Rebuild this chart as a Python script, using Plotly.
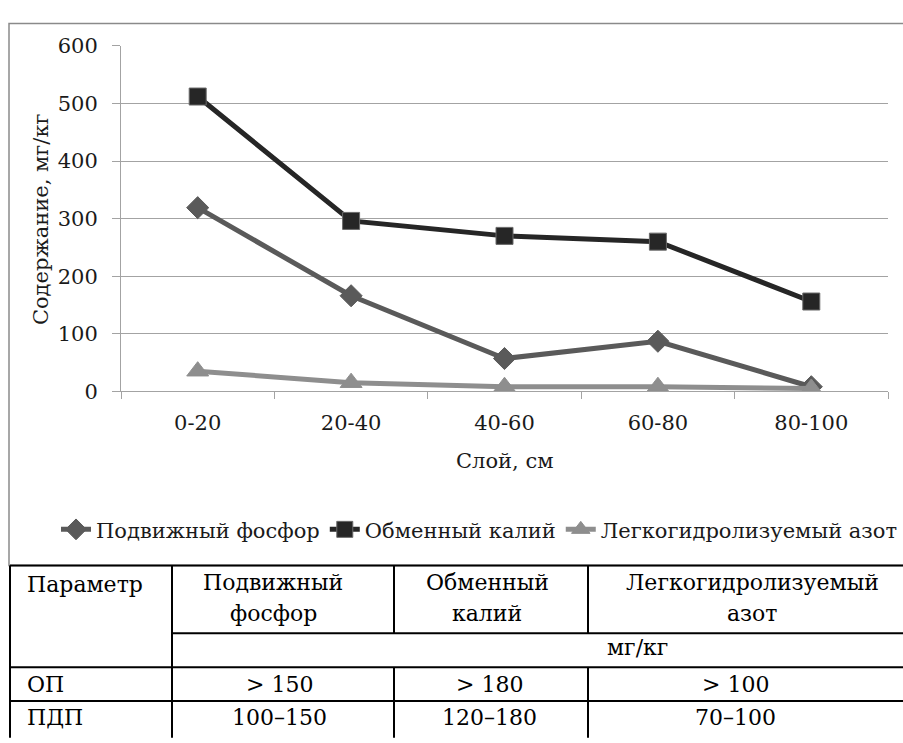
import plotly.graph_objects as go

# Soil layers and nutrient content, mg/kg
layers = ["0-20", "20-40", "40-60", "60-80", "80-100"]
phosphorus = [319, 166, 57, 87, 8]
potassium = [512, 296, 270, 260, 156]
nitrogen = [35, 15, 8, 8, 5]

series_names = ["Подвижный фосфор", "Обменный калий", "Легкогидролизуемый азот"]
y_ticks = [0, 100, 200, 300, 400, 500, 600]

# Reference table of nutrient supply levels
table_header_left = "Параметр"
table_header_cols = [["Подвижный", "фосфор"], ["Обменный", "калий"], ["Легкогидролизуемый", "азот"]]
table_units = "мг/кг"
table_rows = [["ОП", "> 150", "> 180", "> 100"],
              ["ПДП", "100–150", "120–180", "70–100"]]

W, H = 903, 743
SERIF = "DejaVu Serif"


def px(x):
    return x / W


def py(y):
    return 1 - y / H


fig = go.Figure()
styles = [
    dict(color="#5a5a5a", symbol="diamond", size=17, mline="#5a5a5a"),
    dict(color="#262626", symbol="square", size=17, mline="#6a6a6a"),
    dict(color="#8e8e8e", symbol="triangle-up", size=19, mline="#8e8e8e"),
]
for name, vals, st in zip(series_names, [phosphorus, potassium, nitrogen], styles):
    fig.add_trace(go.Scatter(
        x=layers, y=vals, name=name, mode="lines+markers",
        line=dict(color=st["color"], width=5),
        marker=dict(symbol=st["symbol"], size=st["size"], color=st["color"],
                    line=dict(color=st["mline"], width=1)),
    ))

axis_grey = "#a3a3a3"
fig.update_layout(
    width=W, height=H,
    margin=dict(l=0, r=0, t=0, b=0),
    paper_bgcolor="white", plot_bgcolor="white",
    font=dict(family=SERIF, color="#1a1a1a", size=21),
    showlegend=True,
    legend=dict(orientation="h", x=px(57), xanchor="left", y=py(535), yanchor="middle",
                font=dict(family=SERIF, size=21, color="#1a1a1a"),
                itemwidth=30, tracegroupgap=0, bgcolor="rgba(0,0,0,0)"),
    xaxis=dict(domain=[px(121), px(888)], type="category", range=[-0.5, 4.5],
               tickson="boundaries", showgrid=False, ticks="outside", ticklen=7,
               tickcolor=axis_grey, showline=True, linecolor=axis_grey, linewidth=1,
               tickfont=dict(family=SERIF, size=21, color="#1a1a1a"),
               ticklabelstandoff=12, zeroline=False, fixedrange=True),
    yaxis=dict(domain=[py(392), py(35)], range=[0, 600], tickvals=y_ticks,
               showgrid=True, gridcolor=axis_grey, gridwidth=1,
               ticks="outside", ticklen=8, tickcolor=axis_grey,
               showline=True, linecolor=axis_grey, linewidth=1, zeroline=False,
               tickfont=dict(family=SERIF, size=21, color="#1a1a1a"),
               ticklabelstandoff=10, fixedrange=True),
)

annotations = [
    dict(text="Содержание, мг/кг", x=px(41), y=py(214), textangle=-90,
         font=dict(family=SERIF, size=21, color="#1a1a1a")),
    dict(text="Слой, см", x=px(505), y=py(464),
         font=dict(family=SERIF, size=21, color="#1a1a1a")),
]

# Table text
tf = dict(family=SERIF, size=22, color="black")
annotations.append(dict(text=table_header_left, x=px(25), y=py(592), xanchor="left", font=tf))
col_centers = [273, 487, 752]
for cx, lines in zip(col_centers, table_header_cols):
    annotations.append(dict(text=lines[0], x=px(cx), y=py(590), font=tf))
    annotations.append(dict(text=lines[1], x=px(cx), y=py(622), font=tf))
annotations.append(dict(text=table_units, x=px(637), y=py(657), font=tf))
row_ys = [695, 729]
val_centers = [279, 489, 735]
for ry, row in zip(row_ys, table_rows):
    annotations.append(dict(text=row[0], x=px(25), y=py(ry), xanchor="left", font=tf))
    for cx, v in zip(val_centers, row[1:]):
        annotations.append(dict(text=v, x=px(cx), y=py(ry), font=tf))

for a in annotations:
    a.update(xref="paper", yref="paper", showarrow=False)
    a.setdefault("xanchor", "center")
    a.setdefault("yanchor", "middle")
fig.update_layout(annotations=annotations)

shapes = []
# Chart frame
shapes.append(dict(type="rect", xref="paper", yref="paper",
                   x0=px(9), x1=px(910), y0=py(572), y1=py(12),
                   line=dict(color="#8a8a8a", width=1.5)))


def hline(y, x0, x1):
    shapes.append(dict(type="line", xref="paper", yref="paper",
                       x0=px(x0), x1=px(x1), y0=py(y), y1=py(y),
                       line=dict(color="black", width=2)))


def vline(x, y0, y1):
    shapes.append(dict(type="line", xref="paper", yref="paper",
                       x0=px(x), x1=px(x), y0=py(y0), y1=py(y1),
                       line=dict(color="black", width=2)))


hline(572, 10, 910)
hline(642, 172, 910)
hline(677, 10, 910)
hline(712, 10, 910)
vline(10, 572, 750)
vline(172, 572, 750)
for xv in (394, 588):
    vline(xv, 572, 642)
    vline(xv, 677, 750)

fig.update_layout(shapes=shapes)

fig.write_html("out.html")
